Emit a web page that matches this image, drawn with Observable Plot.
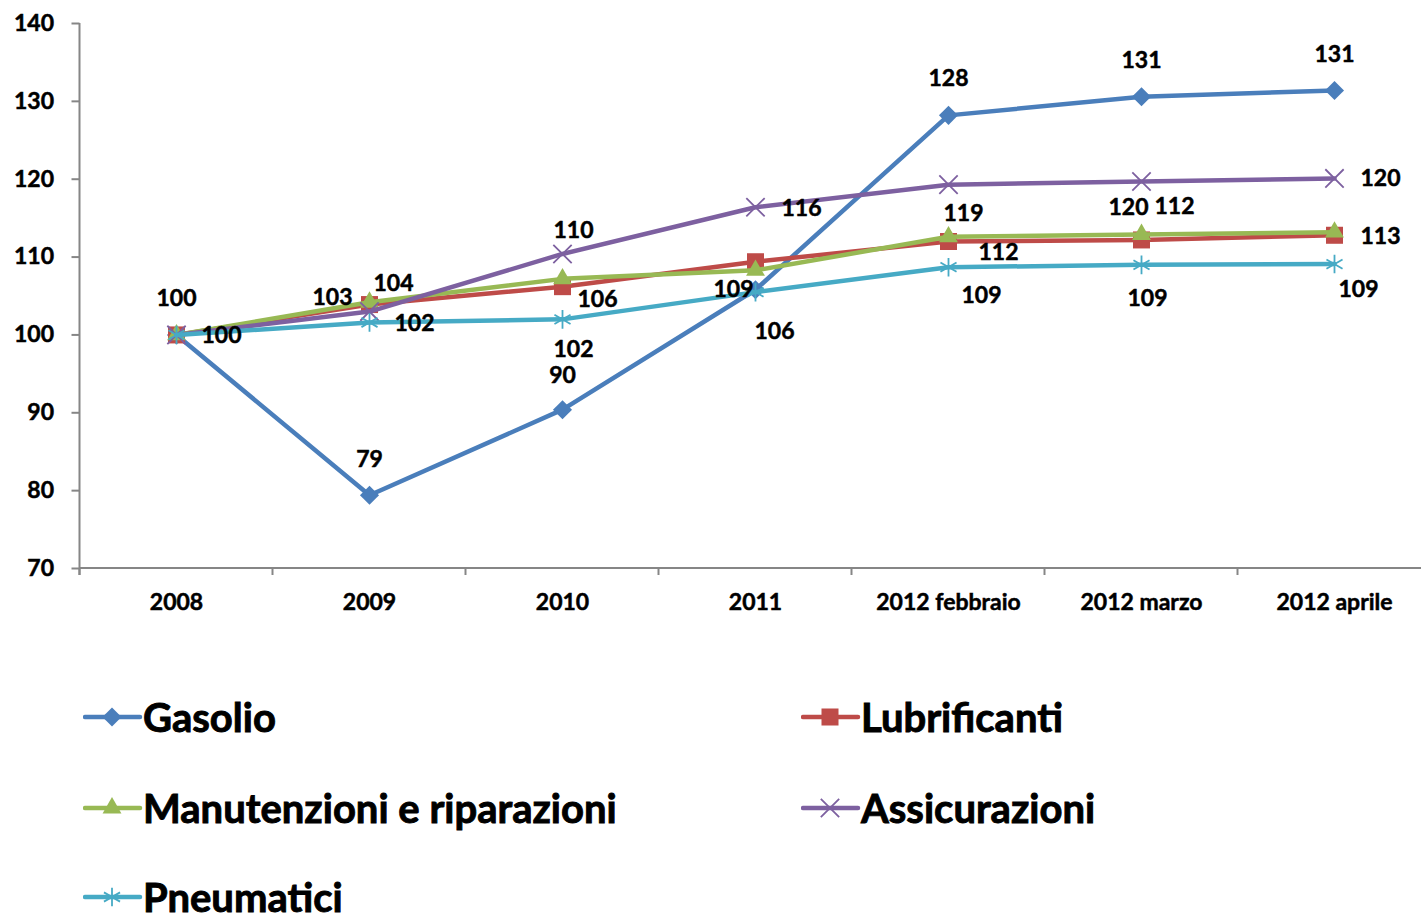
<!DOCTYPE html>
<html>
<head>
<meta charset="utf-8">
<script src="https://cdn.jsdelivr.net/npm/d3@7"></script>
<script src="https://cdn.jsdelivr.net/npm/@observablehq/plot@0.6"></script>
<style>
  html, body { margin: 0; padding: 0; background: #fff; overflow: hidden; }
  #chart svg { display: block; }
  #legend { position: relative; height: 276px; font-family: Lato, "Open Sans", sans-serif; font-weight: bold; font-size: 40px; color: #000; -webkit-text-stroke: 0.9px #000; }
  .item { position: absolute; display: flex; align-items: center; height: 44px; white-space: nowrap; }
  .item svg { display: block; margin-right: 0px; }
</style>
</head>
<body>
<div id="chart"></div>
<div id="legend"></div>
<script>
// ---------- DATA ----------
const categories = ["2008", "2009", "2010", "2011", "2012 febbraio", "2012 marzo", "2012 aprile"];
const seriesNames = ["Gasolio", "Lubrificanti", "Manutenzioni e riparazioni", "Assicurazioni", "Pneumatici"];
const gasolio       = [100, 79.4, 90.4, 105.8, 128.2, 130.6, 131.4];
const lubrificanti  = [100, 103.9, 106.2, 109.4, 112.0, 112.2, 112.8];
const manutenzioni  = [100, 104.2, 107.2, 108.3, 112.6, 112.9, 113.2];
const assicurazioni = [100, 103.0, 110.4, 116.4, 119.3, 119.7, 120.1];
const pneumatici    = [100, 101.6, 102.0, 105.5, 108.7, 109.0, 109.1];
const yTicks = [70, 80, 90, 100, 110, 120, 130, 140];
// which points carry a data label (as in the original)
const shownGasolio       = [1, 1, 1, 0, 1, 1, 1];
const shownLubrificanti  = [0, 1, 1, 1, 1, 1, 1];
const shownManutenzioni  = [0, 0, 0, 0, 0, 0, 0];
const shownAssicurazioni = [0, 1, 1, 1, 1, 1, 1];
const shownPneumatici    = [1, 1, 1, 1, 1, 1, 1];

// ---------- LAYOUT / STYLE ----------
const seriesValues = [gasolio, lubrificanti, manutenzioni, assicurazioni, pneumatici];
const seriesShown = [shownGasolio, shownLubrificanti, shownManutenzioni, shownAssicurazioni, shownPneumatici];
const colors = ["#4a7ebb", "#be4b48", "#98b954", "#7d60a0", "#46aac5"];
const symbols = ["diamond2", "square", "triangle", "times", "asterisk"];
const symbolR = [8.6, 9.6, 7, 8.4, 8.8];
const filled = [true, true, true, false, false];
// label offsets (dx, dy) per series per point, as placed in the original
const labelOffsets = [
  [[0,-36],[0,-36],[0,-34],[0,-36],[0,-37],[0,-36],[0,-36]],
  [[0,0],[24,-21],[35,13],[-22,28],[50,11],[33,-33],[46,1]],
  [[0,0],[0,0],[0,0],[0,0],[0,0],[0,0],[0,0]],
  [[0,0],[-37,-14],[11,-23],[46,1],[15,29],[-13,26],[46,0]],
  [[45,1],[45,1],[11,30],[19,40],[33,28],[6,34],[24,26]]
];
const FONT = "Lato, 'Open Sans', sans-serif";

const rows = [];
seriesNames.forEach((s, si) => {
  categories.forEach((c, ci) => {
    rows.push({series: s, si, cat: c, ci, value: seriesValues[si][ci], shown: seriesShown[si][ci],
               dx: labelOffsets[si][ci][0], dy: labelOffsets[si][ci][1]});
  });
});

const thicken = (i, s, v, d, c, next) => {
  const g = next(i, s, v, d, c);
  d3.select(g).selectAll("text").attr("stroke", "#000").attr("stroke-width", 0.5);
  return g;
};

const marks = [];
// axes lines and category boundary ticks
marks.push((index, scales, values, dimensions) => {
  const {width, height, marginLeft, marginTop, marginBottom} = dimensions;
  const x = scales.x;
  const step = x.step();
  const g = d3.create("svg:g").attr("stroke", "#868686").attr("stroke-width", 2).attr("fill", "none");
  const yb = height - marginBottom;
  g.append("line").attr("x1", marginLeft).attr("x2", marginLeft).attr("y1", marginTop).attr("y2", yb + 7);
  g.append("line").attr("x1", marginLeft).attr("x2", width).attr("y1", yb).attr("y2", yb);
  categories.forEach(c => {
    const bx = x(c) - step / 2;
    g.append("line").attr("x1", bx).attr("x2", bx).attr("y1", yb).attr("y2", yb + 7);
  });
  return g.node();
});
marks.push(Plot.axisY({ticks: yTicks, tickSize: 8, tickPadding: 18, stroke: "#868686", strokeWidth: 2,
  fill: "#000", fontSize: 23, fontWeight: "bold", label: null, render: thicken}));
marks.push(Plot.axisX({tickSize: 0, tickPadding: 25, fill: "#000", fontSize: 23, fontWeight: "bold", label: null, render: thicken}));

seriesNames.forEach((s, si) => {
  const data = rows.filter(d => d.si === si);
  marks.push(Plot.line(data, {x: "cat", y: "value", stroke: colors[si], strokeWidth: 4.5, strokeLinejoin: "round", strokeLinecap: "round"}));
  marks.push(Plot.dot(data, {x: "cat", y: "value", symbol: symbols[si], r: symbolR[si],
    fill: filled[si] ? colors[si] : "none", stroke: filled[si] ? "none" : colors[si], strokeWidth: 1.8}));
});
seriesNames.forEach((s, si) => {
  const data = rows.filter(d => d.si === si && d.shown);
  data.forEach(d => {
    marks.push(Plot.text([d], {x: "cat", y: "value", text: r => String(Math.round(r.value)),
      dx: d.dx, dy: d.dy, fontSize: 23, fontWeight: "bold", fill: "#000", stroke: "#000", strokeWidth: 0.5}));
  });
});

const chart = Plot.plot({
  width: 1421,
  height: 640,
  marginTop: 23,
  marginBottom: 72,
  marginLeft: 79.5,
  marginRight: 0,
  style: {fontFamily: FONT, background: "#fff", overflow: "visible"},
  x: {type: "point", domain: categories, range: [79.5, 1430.5], padding: 0.5, axis: null},
  y: {domain: [70, 140], axis: null},
  marks
});
document.getElementById("chart").appendChild(chart);

// ---------- LEGEND ----------
const legend = document.getElementById("legend");
const legendPos = [[83, 77], [801, 77], [83, 168], [801, 168], [83, 257]];
seriesNames.forEach((s, si) => {
  const item = document.createElement("div");
  item.className = "item";
  item.style.left = legendPos[si][0] + "px";
  item.style.top = (legendPos[si][1] - 22) + "px";
  const sw = d3.create("svg").attr("width", 60).attr("height", 44);
  sw.append("line").attr("x1", 2).attr("x2", 57).attr("y1", 22).attr("y2", 22)
    .attr("stroke", colors[si]).attr("stroke-width", 4.5).attr("stroke-linecap", "round");
  const symMap = {diamond2: d3.symbolDiamond2, square: d3.symbolSquare, triangle: d3.symbolTriangle, times: d3.symbolTimes, asterisk: d3.symbolAsterisk};
  const size = Math.PI * symbolR[si] * symbolR[si];
  sw.append("path").attr("transform", "translate(29,22)")
    .attr("d", d3.symbol(symMap[symbols[si]], size)())
    .attr("fill", filled[si] ? colors[si] : "none")
    .attr("stroke", filled[si] ? "none" : colors[si]).attr("stroke-width", 1.8);
  item.appendChild(sw.node());
  const t = document.createElement("span");
  t.textContent = s;
  item.appendChild(t);
  legend.appendChild(item);
});
</script>
</body>
</html>
